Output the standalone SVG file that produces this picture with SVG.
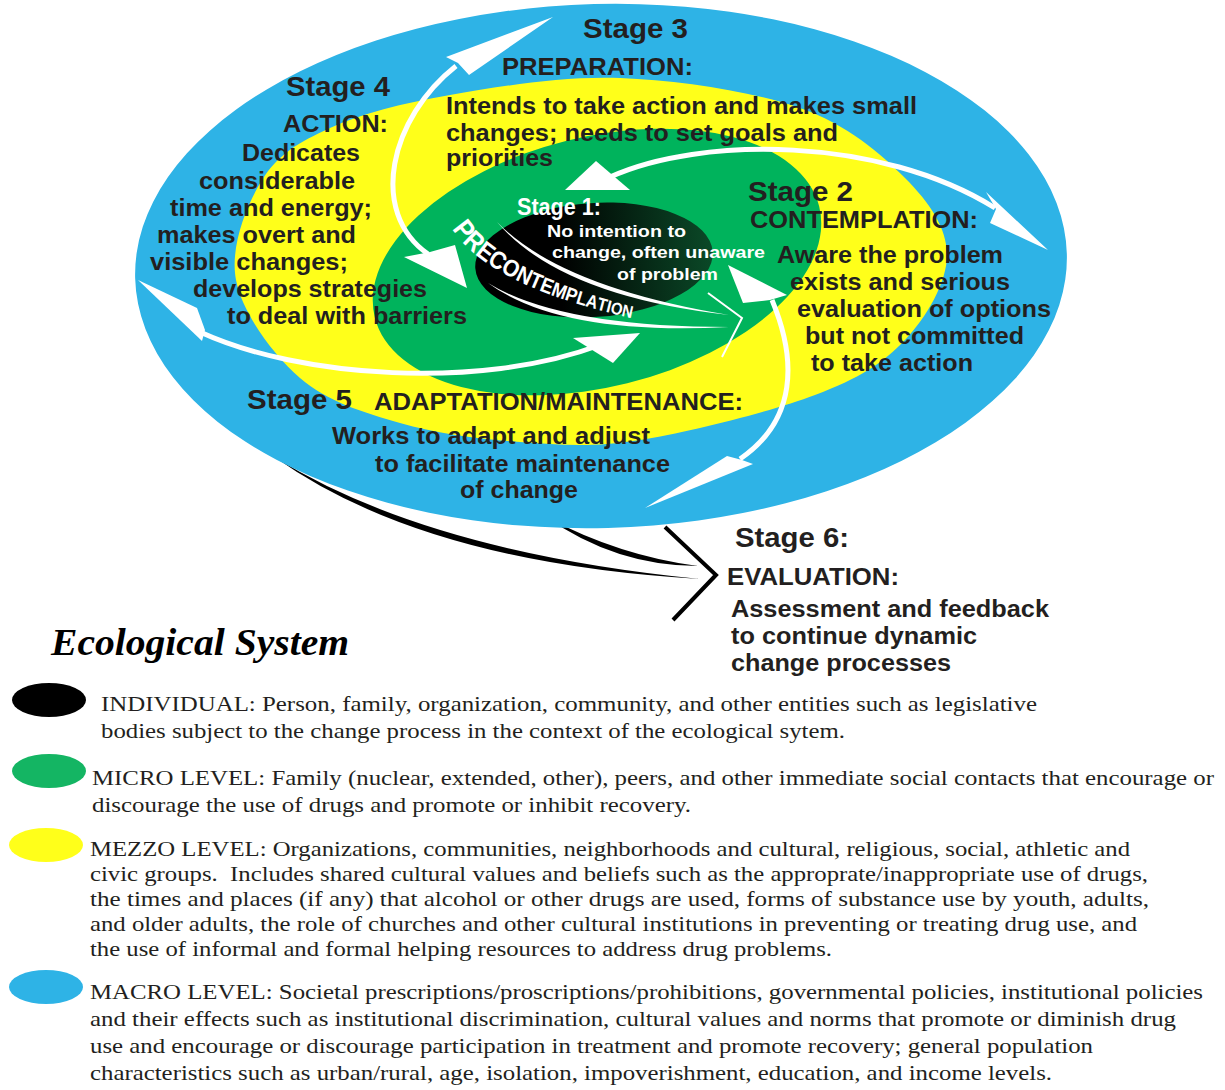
<svg xmlns="http://www.w3.org/2000/svg" width="1225" height="1090" viewBox="0 0 1225 1090">
<defs>
<style>
.t{font-family:"Liberation Sans",Arial,sans-serif;font-weight:bold;fill:#231f20}
.st{font-size:28px}
.hd{font-size:23px}
.bd{font-size:23px}
.w{fill:#fff}
.lg{font-family:"Liberation Serif","Times New Roman",serif;font-size:22px;fill:#231f20}
.shaft{fill:none;stroke:#fff;stroke-width:5}
.head{fill:#fff}
.blk{fill:#000}
</style>
<linearGradient id="indiv" gradientUnits="userSpaceOnUse" x1="475" y1="0" x2="715" y2="0">
<stop offset="0" stop-color="#000"/>
<stop offset="0.35" stop-color="#000"/>
<stop offset="1" stop-color="#0b4a28"/>
</linearGradient>
<path id="precPath" d="M 452 229 Q 492 290 650 322"/>
</defs>
<rect width="1225" height="1090" fill="#fff"/>

<g id="connectors-under">
<path class="blk" d="M 276 458 Q 428 552 700 579 Q 424 563 276 458 Z"/>
<path class="blk" d="M 546 517 Q 620 556 698 566 Q 616 566 546 517 Z"/>
</g>

<g id="macro-level"><ellipse cx="601" cy="266" rx="466" ry="262" transform="rotate(-1.5 601 266)" fill="#2eb3e6"/></g>
<g id="mezzo-level"><path fill="#ffff1a" d="M 236 280 C 229.7 247, 246.3 205.3, 262 180 C 277.7 154.7, 298.7 142.2, 330 128 C 361.3 113.8, 401.7 103.3, 450 95 C 498.3 86.7, 561.7 75.8, 620 78 C 678.3 80.2, 752.5 91.3, 800 108 C 847.5 124.7, 880.5 153.5, 905 178 C 929.5 202.5, 947 228, 947 255 C 947 282, 927 316.7, 905 340 C 883 363.3, 859.2 378.3, 815 395 C 770.8 411.7, 689.2 432.2, 640 440 C 590.8 447.8, 560 444.8, 520 442 C 480 439.2, 436.7 433.7, 400 423 C 363.3 412.3, 327.3 401.8, 300 378 C 272.7 354.2, 242.3 313, 236 280 Z"/></g>
<g id="micro-level"><ellipse cx="597" cy="262" rx="229" ry="125" transform="rotate(-14 597 262)" fill="#00b35c"/></g>
<g id="individual"><ellipse cx="594" cy="260" rx="119" ry="57" transform="rotate(-4 594 260)" fill="url(#indiv)"/></g>

<g id="connectors">
<!-- Stage 4 / Stage 3 double arrow -->
<path class="shaft" d="M 456 66 C 390 118, 368 212, 428 254"/>
<polygon class="head" points="553,17 446,57 458,63 469,75"/>
<polygon class="head" points="404,257 467,288 455,245 430,252"/>
<!-- Stage 3 / Stage 2 double arrow -->
<path class="shaft" d="M 610 177 C 700 136, 880 136, 995 208"/>
<polygon class="head" points="565,190 596,161 630,190"/>
<polygon class="head" points="986,192 1048,250 990,223 996,209"/>
<!-- Stage 2 / Stage 5 double arrow -->
<path class="shaft" d="M 772 300 C 797 360, 797 420, 740 459"/>
<polygon class="head" points="728,265 787,295 770,300 743,303"/>
<polygon class="head" points="727,456 645,508 753,464 742,460"/>
<!-- Stage 5 double arrow -->
<path class="shaft" d="M 200 332 C 300 378, 480 390, 600 345"/>
<polygon class="head" points="138,280 197,308 205,330 202,341"/>
<polygon class="head" points="573,338 640,333 613,363"/>
<!-- precontemplation lines -->
<path class="head" d="M 497 222 Q 560 287 729 315 Q 560 296 497 222 Z"/>
<path class="head" d="M 488 283 Q 560 327 729 327 Q 560 336 488 283 Z"/>
<polyline points="708,293 742,318 722,357" fill="none" stroke="#fff" stroke-width="2"/>
<!-- Stage 6 chevron -->
<polyline points="665,527 716,575 673,620" fill="none" stroke="#000" stroke-width="4"/>
</g>

<g id="stage1">
<text class="t w" x="517" y="215" font-size="23" textLength="84" lengthAdjust="spacingAndGlyphs">Stage 1:</text>
<text class="t w" x="547" y="237" font-size="17" textLength="139" lengthAdjust="spacingAndGlyphs">No intention to</text>
<text class="t w" x="552" y="258" font-size="17" textLength="213" lengthAdjust="spacingAndGlyphs">change, often unaware</text>
<text class="t w" x="617" y="280" font-size="17" textLength="101" lengthAdjust="spacingAndGlyphs">of problem</text>
<text class="t w" textLength="205" lengthAdjust="spacingAndGlyphs"><textPath href="#precPath"><tspan font-size="28">P</tspan><tspan font-size="27">R</tspan><tspan font-size="26">E</tspan><tspan font-size="25">C</tspan><tspan font-size="24">O</tspan><tspan font-size="23">N</tspan><tspan font-size="22">T</tspan><tspan font-size="21">E</tspan><tspan font-size="20">M</tspan><tspan font-size="19.5">P</tspan><tspan font-size="19">L</tspan><tspan font-size="18.5">A</tspan><tspan font-size="18">T</tspan><tspan font-size="17.5">I</tspan><tspan font-size="17">O</tspan><tspan font-size="17">N</tspan></textPath></text>
</g>

<g id="stage2">
<text class="t st" x="748" y="201" textLength="105" lengthAdjust="spacingAndGlyphs">Stage 2</text>
<text class="t hd" x="750" y="228" textLength="228" lengthAdjust="spacingAndGlyphs">CONTEMPLATION:</text>
<text class="t bd" x="777" y="263" textLength="226" lengthAdjust="spacingAndGlyphs">Aware the problem</text>
<text class="t bd" x="790" y="290" textLength="220" lengthAdjust="spacingAndGlyphs">exists and serious</text>
<text class="t bd" x="797" y="317" textLength="254" lengthAdjust="spacingAndGlyphs">evaluation of options</text>
<text class="t bd" x="805" y="344" textLength="219" lengthAdjust="spacingAndGlyphs">but not committed</text>
<text class="t bd" x="811" y="371" textLength="162" lengthAdjust="spacingAndGlyphs">to take action</text>
</g>

<g id="stage3">
<text class="t st" x="583" y="38" textLength="105" lengthAdjust="spacingAndGlyphs">Stage 3</text>
<text class="t hd" x="502" y="75" textLength="191" lengthAdjust="spacingAndGlyphs">PREPARATION:</text>
<text class="t bd" x="446" y="114" textLength="471" lengthAdjust="spacingAndGlyphs">Intends to take action and makes small</text>
<text class="t bd" x="446" y="141" textLength="392" lengthAdjust="spacingAndGlyphs">changes; needs to set goals and</text>
<text class="t bd" x="446" y="166" textLength="107" lengthAdjust="spacingAndGlyphs">priorities</text>
</g>

<g id="stage4">
<text class="t st" x="286" y="96" textLength="104" lengthAdjust="spacingAndGlyphs">Stage 4</text>
<text class="t hd" x="283" y="132" textLength="105" lengthAdjust="spacingAndGlyphs">ACTION:</text>
<text class="t bd" x="242" y="161" textLength="118" lengthAdjust="spacingAndGlyphs">Dedicates</text>
<text class="t bd" x="199" y="189" textLength="156" lengthAdjust="spacingAndGlyphs">considerable</text>
<text class="t bd" x="170" y="216" textLength="202" lengthAdjust="spacingAndGlyphs">time and energy;</text>
<text class="t bd" x="157" y="243" textLength="199" lengthAdjust="spacingAndGlyphs">makes overt and</text>
<text class="t bd" x="150" y="270" textLength="198" lengthAdjust="spacingAndGlyphs">visible changes;</text>
<text class="t bd" x="193" y="297" textLength="234" lengthAdjust="spacingAndGlyphs">develops strategies</text>
<text class="t bd" x="227" y="324" textLength="240" lengthAdjust="spacingAndGlyphs">to deal with barriers</text>
</g>

<g id="stage5">
<text class="t st" x="247" y="409" textLength="105" lengthAdjust="spacingAndGlyphs">Stage 5</text>
<text class="t hd" x="374" y="410" textLength="369" lengthAdjust="spacingAndGlyphs">ADAPTATION/MAINTENANCE:</text>
<text class="t bd" x="332" y="444" textLength="318" lengthAdjust="spacingAndGlyphs">Works to adapt and adjust</text>
<text class="t bd" x="375" y="472" textLength="295" lengthAdjust="spacingAndGlyphs">to facilitate maintenance</text>
<text class="t bd" x="460" y="498" textLength="118" lengthAdjust="spacingAndGlyphs">of change</text>
</g>

<g id="stage6">
<text class="t st" x="735" y="547" textLength="114" lengthAdjust="spacingAndGlyphs">Stage 6:</text>
<text class="t hd" x="727" y="585" textLength="172" lengthAdjust="spacingAndGlyphs">EVALUATION:</text>
<text class="t bd" x="731" y="617" textLength="318" lengthAdjust="spacingAndGlyphs">Assessment and feedback</text>
<text class="t bd" x="731" y="644" textLength="246" lengthAdjust="spacingAndGlyphs">to continue dynamic</text>
<text class="t bd" x="731" y="671" textLength="220" lengthAdjust="spacingAndGlyphs">change processes</text>
</g>

<g id="legend-title">
<text x="51" y="655" font-family="'Liberation Serif','Times New Roman',serif" font-size="37" font-weight="bold" font-style="italic" fill="#000" textLength="298" lengthAdjust="spacingAndGlyphs">Ecological System</text>
</g>

<g id="legend-individual">
<ellipse cx="49" cy="700" rx="37" ry="17" fill="#000"/>
<text class="lg" x="101" y="711" textLength="936" lengthAdjust="spacingAndGlyphs">INDIVIDUAL: Person, family, organization, community, and other entities such as legislative</text>
<text class="lg" x="101" y="738" textLength="744" lengthAdjust="spacingAndGlyphs">bodies subject to the change process in the context of the ecological sytem.</text>
</g>
<g id="legend-micro">
<ellipse cx="49" cy="771" rx="37" ry="17" fill="#14b563"/>
<text class="lg" x="92" y="785" textLength="1122" lengthAdjust="spacingAndGlyphs">MICRO LEVEL: Family (nuclear, extended, other), peers, and other immediate social contacts that encourage or</text>
<text class="lg" x="92" y="812" textLength="599" lengthAdjust="spacingAndGlyphs">discourage the use of drugs and promote or inhibit recovery.</text>
</g>
<g id="legend-mezzo">
<ellipse cx="46" cy="845" rx="37" ry="17" fill="#ffff1a"/>
<text class="lg" x="90" y="856" textLength="1040" lengthAdjust="spacingAndGlyphs">MEZZO LEVEL: Organizations, communities, neighborhoods and cultural, religious, social, athletic and</text>
<text class="lg" x="90" y="881" textLength="1058" lengthAdjust="spacingAndGlyphs" style="white-space:pre">civic groups.  Includes shared cultural values and beliefs such as the approprate/inappropriate use of drugs,</text>
<text class="lg" x="90" y="906" textLength="1059" lengthAdjust="spacingAndGlyphs">the times and places (if any) that alcohol or other drugs are used, forms of substance use by youth, adults,</text>
<text class="lg" x="90" y="931" textLength="1047" lengthAdjust="spacingAndGlyphs">and older adults, the role of churches and other cultural institutions in preventing or treating drug use, and</text>
<text class="lg" x="90" y="956" textLength="742" lengthAdjust="spacingAndGlyphs">the use of informal and formal helping resources to address drug problems.</text>
</g>
<g id="legend-macro">
<ellipse cx="46" cy="987" rx="37" ry="17" fill="#2eb3e6"/>
<text class="lg" x="90" y="999" textLength="1113" lengthAdjust="spacingAndGlyphs">MACRO LEVEL: Societal prescriptions/proscriptions/prohibitions, governmental policies, institutional policies</text>
<text class="lg" x="90" y="1026" textLength="1086" lengthAdjust="spacingAndGlyphs">and their effects such as institutional discrimination, cultural values and norms that promote or diminish drug</text>
<text class="lg" x="90" y="1053" textLength="1003" lengthAdjust="spacingAndGlyphs">use and encourage or discourage participation in treatment and promote recovery; general population</text>
<text class="lg" x="90" y="1080" textLength="962" lengthAdjust="spacingAndGlyphs">characteristics such as urban/rural, age, isolation, impoverishment, education, and income levels.</text>
</g>
</svg>
